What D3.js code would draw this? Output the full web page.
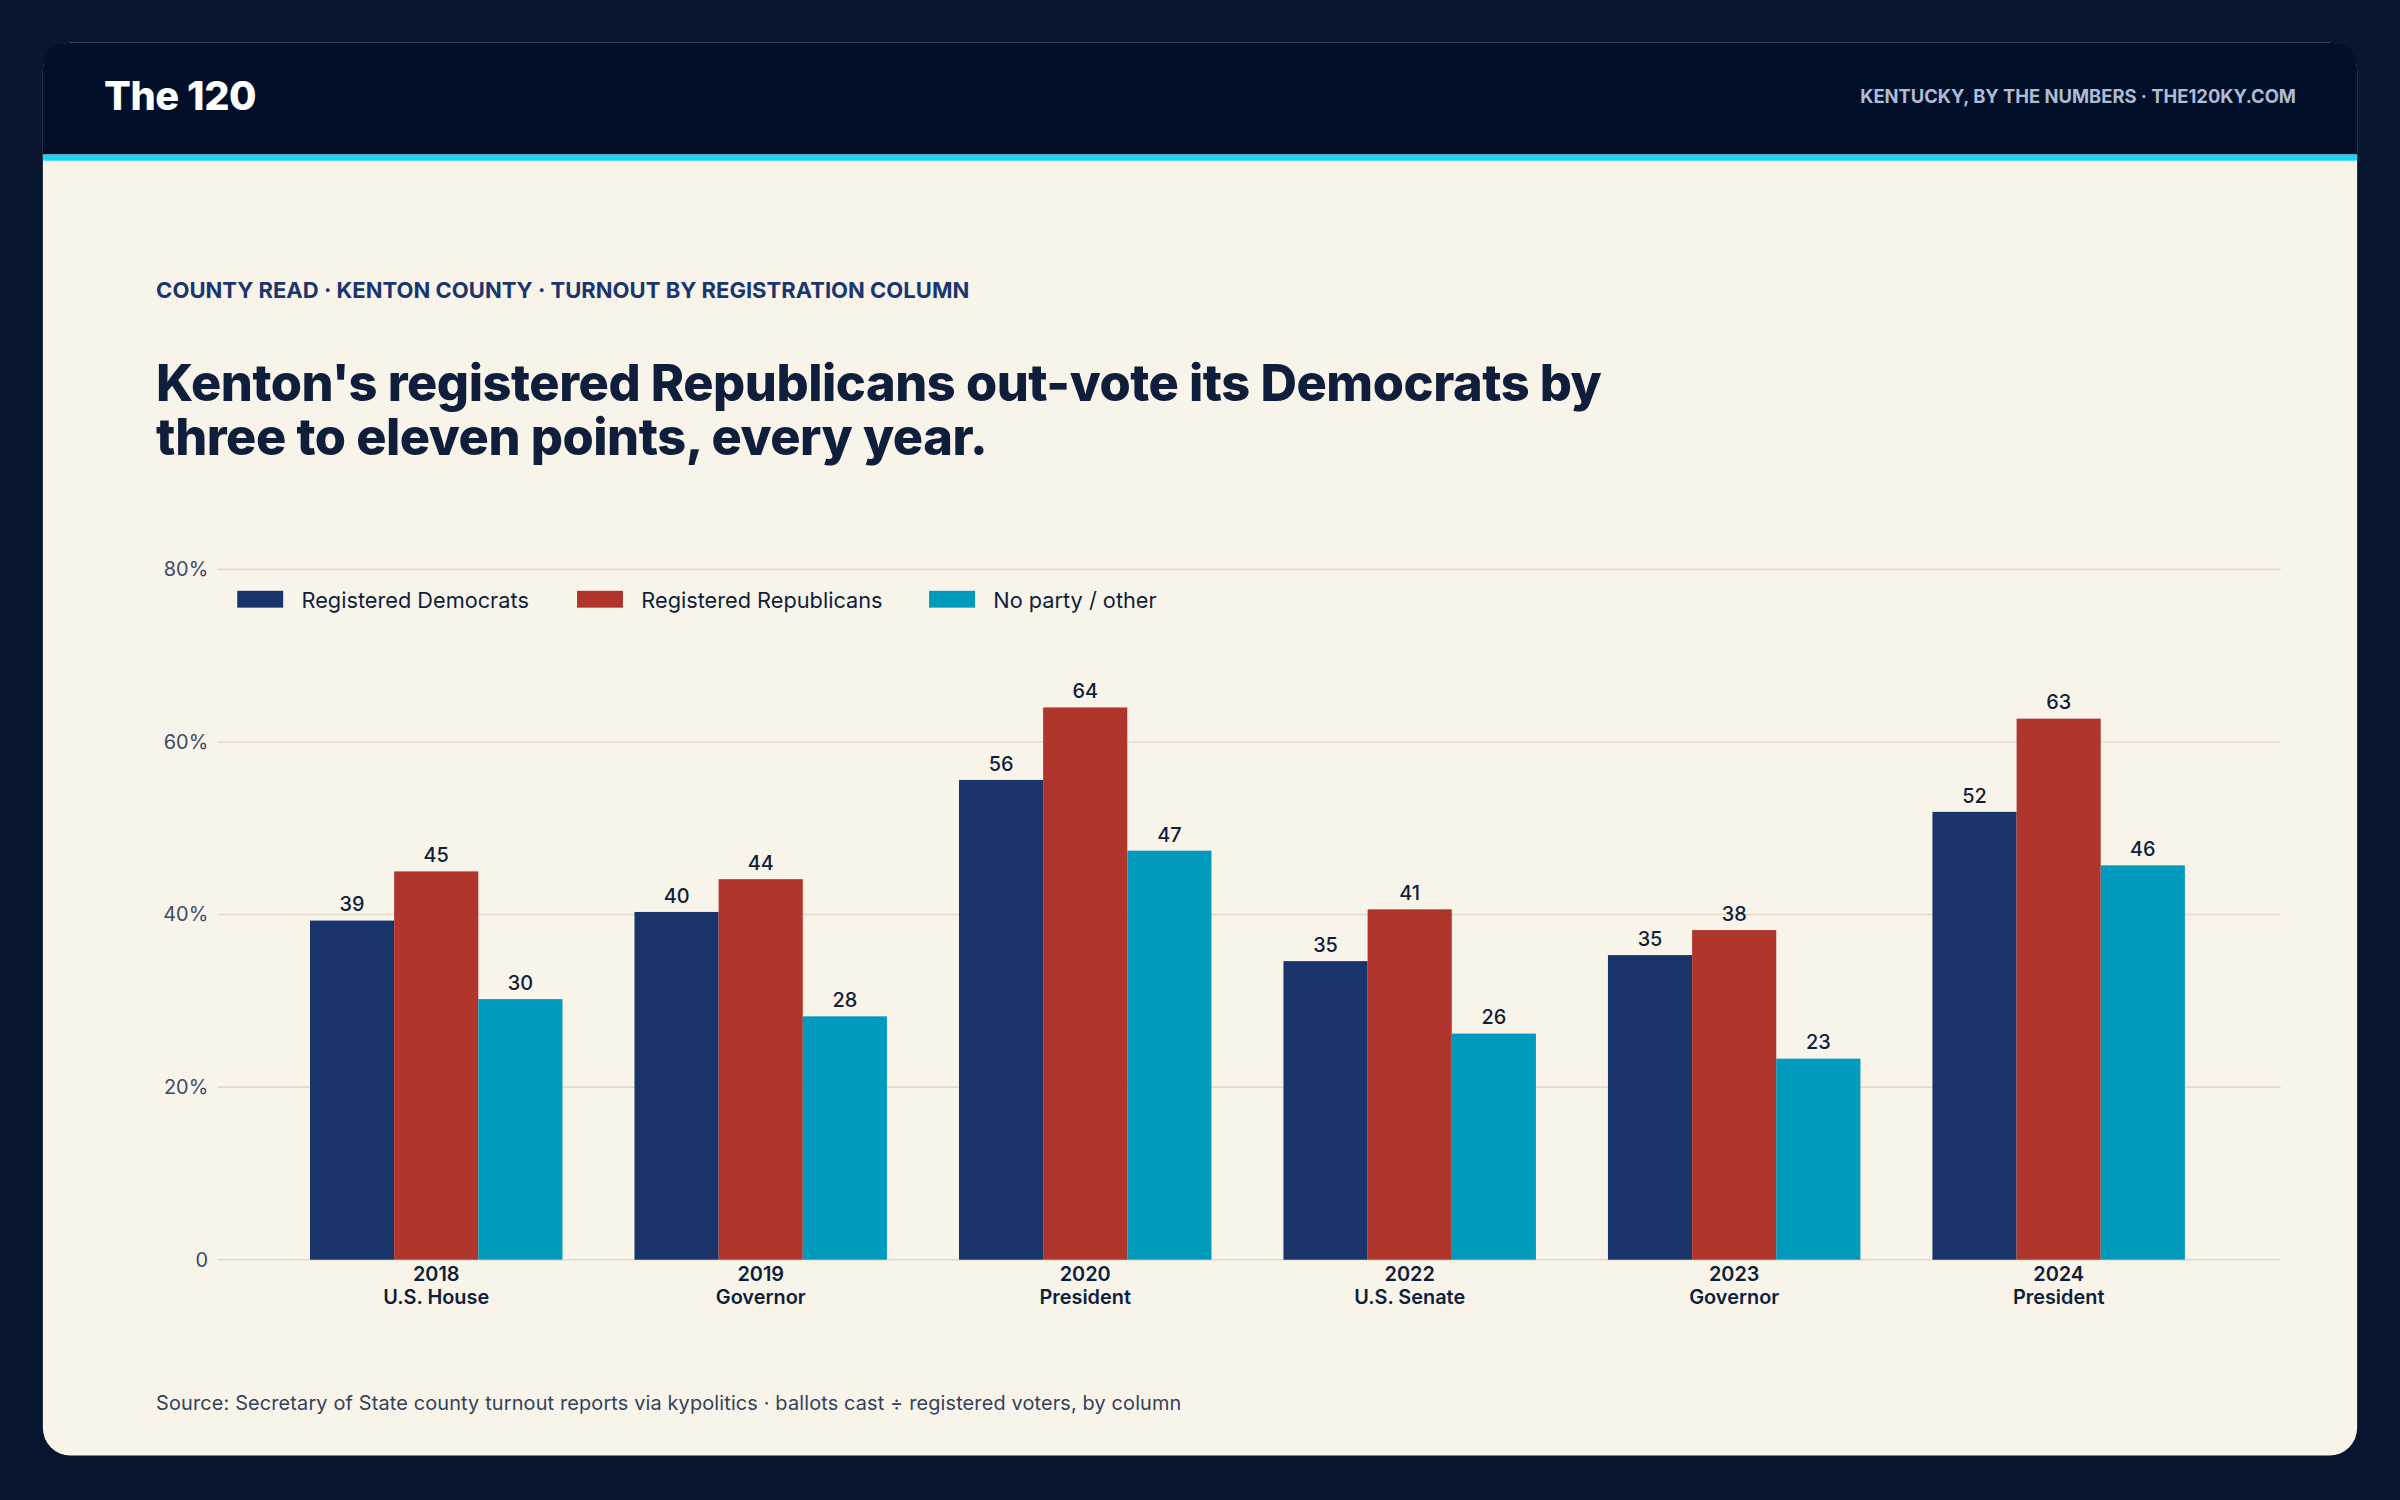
<!DOCTYPE html>
<html><head><meta charset="utf-8">
<script src="https://cdn.jsdelivr.net/npm/d3@7"></script>
<style>html,body{margin:0;padding:0;background:#07152f;}svg{display:block}</style>
</head><body>
<svg id="c" width="2400" height="1500" viewBox="0 0 1568 980"></svg>
<script>
const categories = ["2018|U.S. House","2019|Governor","2020|President","2022|U.S. Senate","2023|Governor","2024|President"];
const seriesNames = ["Registered Democrats","Registered Republicans","No party / other"];
const dem = [39.3,40.3,55.6,34.6,35.3,51.9];
const rep = [45.0,44.1,64.0,40.6,38.2,62.7];
const other = [30.2,28.2,47.4,26.2,23.3,45.7];
const yTicks = [0,20,40,60,80];
const colors = ["#19336b","#b0352c","#009abd"];
const F = "Inter, 'Noto Sans', sans-serif";

const svg = d3.select("#c");
svg.append("rect").attr("width",1568).attr("height",980).attr("fill","#07152f");
svg.append("rect").attr("x",28).attr("y",28).attr("width",1512).attr("height",923).attr("rx",18).attr("fill","#f8f4ea");
svg.append("path").attr("d","M28,101 L28,46 Q28,28 46,28 L1522,28 Q1540,28 1540,46 L1540,101 Z").attr("fill","#010f29");
svg.append("rect").attr("x",28).attr("y",101).attr("width",1512).attr("height",4).attr("fill","#1bd3f5");
svg.append("text").attr("x",68).attr("y",72).attr("font-family",F).attr("font-weight",800).attr("font-size",26).attr("fill","#fff").attr("letter-spacing",-0.3).text("The 120");
svg.append("text").attr("x",1500).attr("y",67).attr("text-anchor","end").attr("font-family",F).attr("font-weight",700).attr("font-size",12).attr("fill","#aebbd3").text("KENTUCKY, BY THE NUMBERS · THE120KY.COM");
svg.append("text").attr("x",102).attr("y",195).attr("font-family",F).attr("font-weight",700).attr("font-size",14.4).attr("fill","#1a3570").text("COUNTY READ · KENTON COUNTY · TURNOUT BY REGISTRATION COLUMN");
["Kenton's registered Republicans out-vote its Democrats by","three to eleven points, every year."].forEach((t,i)=>
  svg.append("text").attr("x",102).attr("y",262+i*35).attr("font-family",F).attr("font-weight",800).attr("font-size",33).attr("letter-spacing",-0.3).attr("fill","#0f1e3a").text(t));

const y = d3.scaleLinear().domain([0,80]).range([823,372]);
const x = d3.scaleBand().domain(categories).range([179,1451]).paddingInner(0.222).paddingOuter(0.111);
const xs = d3.scaleBand().domain([0,1,2]).range([0,x.bandwidth()]);
const g = svg.append("g");
yTicks.forEach(t=>{
  g.append("line").attr("x1",142).attr("x2",1490).attr("y1",y(t)).attr("y2",y(t)).attr("stroke","#e2d9c6").attr("stroke-width",1);
  g.append("text").attr("x",136).attr("y",y(t)+4.5).attr("text-anchor","end").attr("font-family",F).attr("font-size",13).attr("fill","#3b4a68").text(t===0?"0":t+"%");
});
const data = [dem,rep,other];
categories.forEach((c,i)=>{
  data.forEach((s,j)=>{
    const bx = x(c)+xs(j);
    g.append("rect").attr("x",bx).attr("y",y(s[i])).attr("width",xs.bandwidth()).attr("height",y(0)-y(s[i])).attr("fill",colors[j]);
    g.append("text").attr("x",bx+xs.bandwidth()/2).attr("y",y(s[i])-6).attr("text-anchor","middle").attr("font-family",F).attr("font-weight",500).attr("font-size",13).attr("fill","#0f1e3a").text(Math.round(s[i]));
  });
  const [yr,lab] = c.split("|");
  const cx = x(c)+x.bandwidth()/2;
  g.append("text").attr("x",cx).attr("y",837).attr("text-anchor","middle").attr("font-family",F).attr("font-weight",600).attr("font-size",13).attr("fill","#0f1e3a").text(yr);
  g.append("text").attr("x",cx).attr("y",852).attr("text-anchor","middle").attr("font-family",F).attr("font-weight",600).attr("font-size",13).attr("fill","#0f1e3a").text(lab);
});
const lx = [155,377,607];
seriesNames.forEach((n,j)=>{
  svg.append("rect").attr("x",lx[j]).attr("y",386).attr("width",30).attr("height",11).attr("fill",colors[j]);
  svg.append("text").attr("x",lx[j]+42).attr("y",397).attr("font-family",F).attr("font-size",14.2).attr("fill","#0f1e3a").text(n);
});
svg.append("text").attr("x",102).attr("y",921).attr("font-family",F).attr("font-size",13).attr("letter-spacing",0.1).attr("fill","#33415c").text("Source: Secretary of State county turnout reports via kypolitics · ballots cast ÷ registered voters, by column");
</script>
</body></html>
